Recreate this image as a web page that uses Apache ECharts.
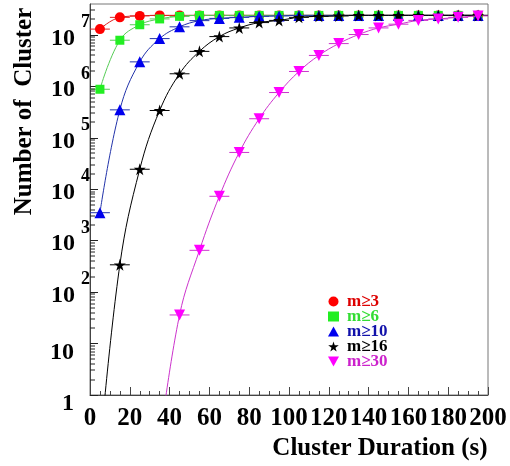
<!DOCTYPE html>
<html>
<head>
<meta charset="utf-8">
<script src="https://cdn.jsdelivr.net/npm/echarts@6/dist/echarts.min.js"></script>
<style>
  html, body { margin: 0; background: #fff; }
  #main { width: 510px; height: 466px; }
</style>
</head>
<body>
<div id="main"></div>
<script>
// bin centres (s)
const durations = [5, 15, 25, 35, 45, 55, 65, 75, 85, 95, 105, 115, 125, 135, 145, 155, 165, 175, 185, 195];

// number of clusters per multiplicity cut
const m3 = [1.3e7, 2.2e7, 2.35e7, 2.4e7, 2.4e7, 2.4e7, 2.4e7, 2.4e7, 2.4e7, 2.4e7, 2.4e7, 2.4e7, 2.4e7, 2.4e7, 2.4e7, 2.4e7, 2.4e7, 2.4e7, 2.4e7, 2.4e7];
const m6 = [8.8e5, 7.9e6, 1.58e7, 2.05e7, 2.3e7, 2.4e7, 2.4e7, 2.4e7, 2.4e7, 2.4e7, 2.4e7, 2.4e7, 2.4e7, 2.4e7, 2.4e7, 2.4e7, 2.4e7, 2.4e7, 2.4e7, 2.4e7];
const m10 = [3.5e3, 3.5e5, 3.0e6, 8.5e6, 1.44e7, 1.9e7, 2.1e7, 2.2e7, 2.3e7, 2.35e7, 2.4e7, 2.4e7, 2.4e7, 2.4e7, 2.4e7, 2.4e7, 2.4e7, 2.4e7, 2.4e7, 2.4e7];
const m16 = [0.083, 340, 2.45e4, 3.4e5, 1.76e6, 4.8e6, 9.3e6, 1.37e7, 1.74e7, 1.92e7, 2.2e7, 2.3e7, 2.35e7, 2.4e7, 2.4e7, 2.4e7, 2.4e7, 2.4e7, 2.4e7, 2.4e7];
const m30 = [null, null, null, 0.12, 36, 650, 7.3e3, 5.2e4, 2.35e5, 7.6e5, 1.95e6, 4.0e6, 6.8e6, 1.02e7, 1.37e7, 1.62e7, 1.92e7, 2.05e7, 2.2e7, 2.35e7];

const seriesNames = ['m\u22653', 'm\u22656', 'm\u226510', 'm\u226516', 'm\u226530'];
const xTicks = [0, 20, 40, 60, 80, 100, 120, 140, 160, 180, 200];
const halfBin = 5;

// log minor ticks at 2..9 x 10^k
const yMinorTicks = [];
for (let k = 0; k <= 7; k++) {
  for (let m = 2; m <= 9; m++) {
    if (m * Math.pow(10, k) < 4e7) yMinorTicks.push(m * Math.pow(10, k));
  }
}

const serif = '"Liberation Serif", "DejaVu Serif", serif';
const starPath = 'path://M50,0 L61,35 L98,35 L68,57 L79,91 L50,70 L21,91 L32,57 L2,35 L39,35 Z';
const downPath = 'path://M0,0 L100,0 L50,90 Z';

const styles = [
  { data: m3,  marker: '#ff0000', line: '#dd2222', text: '#dd0000', symbol: 'circle',   size: 10 },
  { data: m6,  marker: '#22ee22', line: '#55cc55', text: '#33dd33', symbol: 'rect',     size: 9 },
  { data: m10, marker: '#0000ee', line: '#2233aa', text: '#1111aa', symbol: 'triangle', size: 11 },
  { data: m16, marker: '#000000', line: '#000000', text: '#000000', symbol: starPath,   size: 12 },
  { data: m30, marker: '#ff00ff', line: '#cc33cc', text: '#cc22cc', symbol: downPath,   size: 11 }
];

function pairs(values) {
  return durations.map((d, i) => [d, values[i]]);
}

function errorBars(color) {
  return function (params, api) {
    const x = api.value(0);
    const y = api.value(1);
    const a = api.coord([x - halfBin, y]);
    const b = api.coord([x + halfBin, y]);
    return {
      type: 'line',
      shape: { x1: a[0], y1: a[1], x2: b[0], y2: b[1] },
      style: { stroke: color, lineWidth: 1 }
    };
  };
}

const series = [];
styles.forEach((s, i) => {
  series.push({
    name: 'err' + i,
    type: 'custom',
    clip: true,
    renderItem: errorBars(s.line),
    data: pairs(s.data).filter(p => p[1] != null && p[1] >= 1),
    z: 2
  });
});
styles.forEach((s, i) => {
  series.push({
    name: seriesNames[i],
    type: 'line',
    data: pairs(s.data),
    smooth: 0.4,
    clip: true,
    symbol: s.symbol,
    symbolSize: s.size,
    showAllSymbol: true,
    lineStyle: { color: s.line, width: 1 },
    itemStyle: { color: s.marker },
    z: 3 + i
  });
});
// minor ticks of the log axis (2..9 in every decade)
series.push({
  name: 'yminor',
  type: 'custom',
  silent: true,
  renderItem: function (params, api) {
    const p = api.coord([api.value(0), api.value(1)]);
    return {
      type: 'rect',
      shape: { x: p[0], y: Math.round(p[1]) - 0.5, width: 5, height: 1 },
      style: { fill: '#222' }
    };
  },
  data: yMinorTicks.map(v => [0, v]),
  z: 10
});

const chart = echarts.init(document.getElementById('main'));
chart.setOption({
  animation: false,
  backgroundColor: '#fff',
  grid: {
    left: 90, right: 22, top: 4, bottom: 64,
    show: true, borderColor: '#777', borderWidth: 1
  },
  legend: {
    orient: 'vertical',
    left: 323, top: 288,
    itemWidth: 11, itemHeight: 10, itemGap: -2,
    textStyle: { fontFamily: serif, fontWeight: 'bold', fontSize: 17, padding: [0, 0, 0, 3] },
    data: seriesNames.map((n, i) => ({
      name: n,
      icon: styles[i].symbol,
      textStyle: { color: styles[i].text }
    }))
  },
  xAxis: {
    type: 'value',
    min: 0, max: 200, interval: 20,
    name: 'Cluster Duration (s)',
    nameLocation: 'middle',
    nameGap: 41,
    nameTextStyle: { fontFamily: serif, fontWeight: 'bold', fontSize: 25, color: '#000', padding: [0, 0, 0, 182] },
    axisLine: { lineStyle: { color: '#444' } },
    axisTick: { inside: true, length: 8, lineStyle: { color: '#444' } },
    minorTick: { show: true, splitNumber: 4, length: 4, lineStyle: { color: '#444' } },
    splitLine: { show: false },
    axisLabel: {
      margin: 11,
      fontFamily: serif, fontWeight: 'bold', fontSize: 25, color: '#000',
      formatter: v => xTicks.includes(v) ? String(v) : ''
    }
  },
  yAxis: {
    type: 'log',
    logBase: 10,
    min: 1, max: 4e7, interval: 1,
    name: 'Number of  Cluster',
    nameLocation: 'middle',
    nameRotate: 90,
    nameGap: 53,
    nameTextStyle: { fontFamily: serif, fontWeight: 'bold', fontSize: 25, color: '#000', padding: [0, 0, 0, 176] },
    axisLine: { show: true, lineStyle: { color: '#444' } },
    axisTick: { inside: true, length: 8, lineStyle: { color: '#222' } },
    minorTick: { show: false },
    splitLine: { show: false },
    axisLabel: {
      margin: 0,
      padding: [7, 0, 0, 0],
      showMaxLabel: false,
      fontFamily: serif, fontWeight: 'bold', color: '#000',
      formatter: function (v) {
        const e = Math.round(Math.log10(v));
        if (e === 0) return '{p|1}';
        if (e === 1) return '{p|10}';
        return '{b|10}{e|' + e + '}';
      },
      rich: {
        p: { fontFamily: serif, fontWeight: 'bold', fontSize: 24, padding: [11, 16, 0, 0] },
        b: { fontFamily: serif, fontWeight: 'bold', fontSize: 24, lineHeight: 50 },
        e: { fontFamily: serif, fontWeight: 'bold', fontSize: 18, lineHeight: 42, verticalAlign: 'top', padding: [0, 0, 0, 6] }
      }
    }
  },
  series: series
});
</script>
</body>
</html>
